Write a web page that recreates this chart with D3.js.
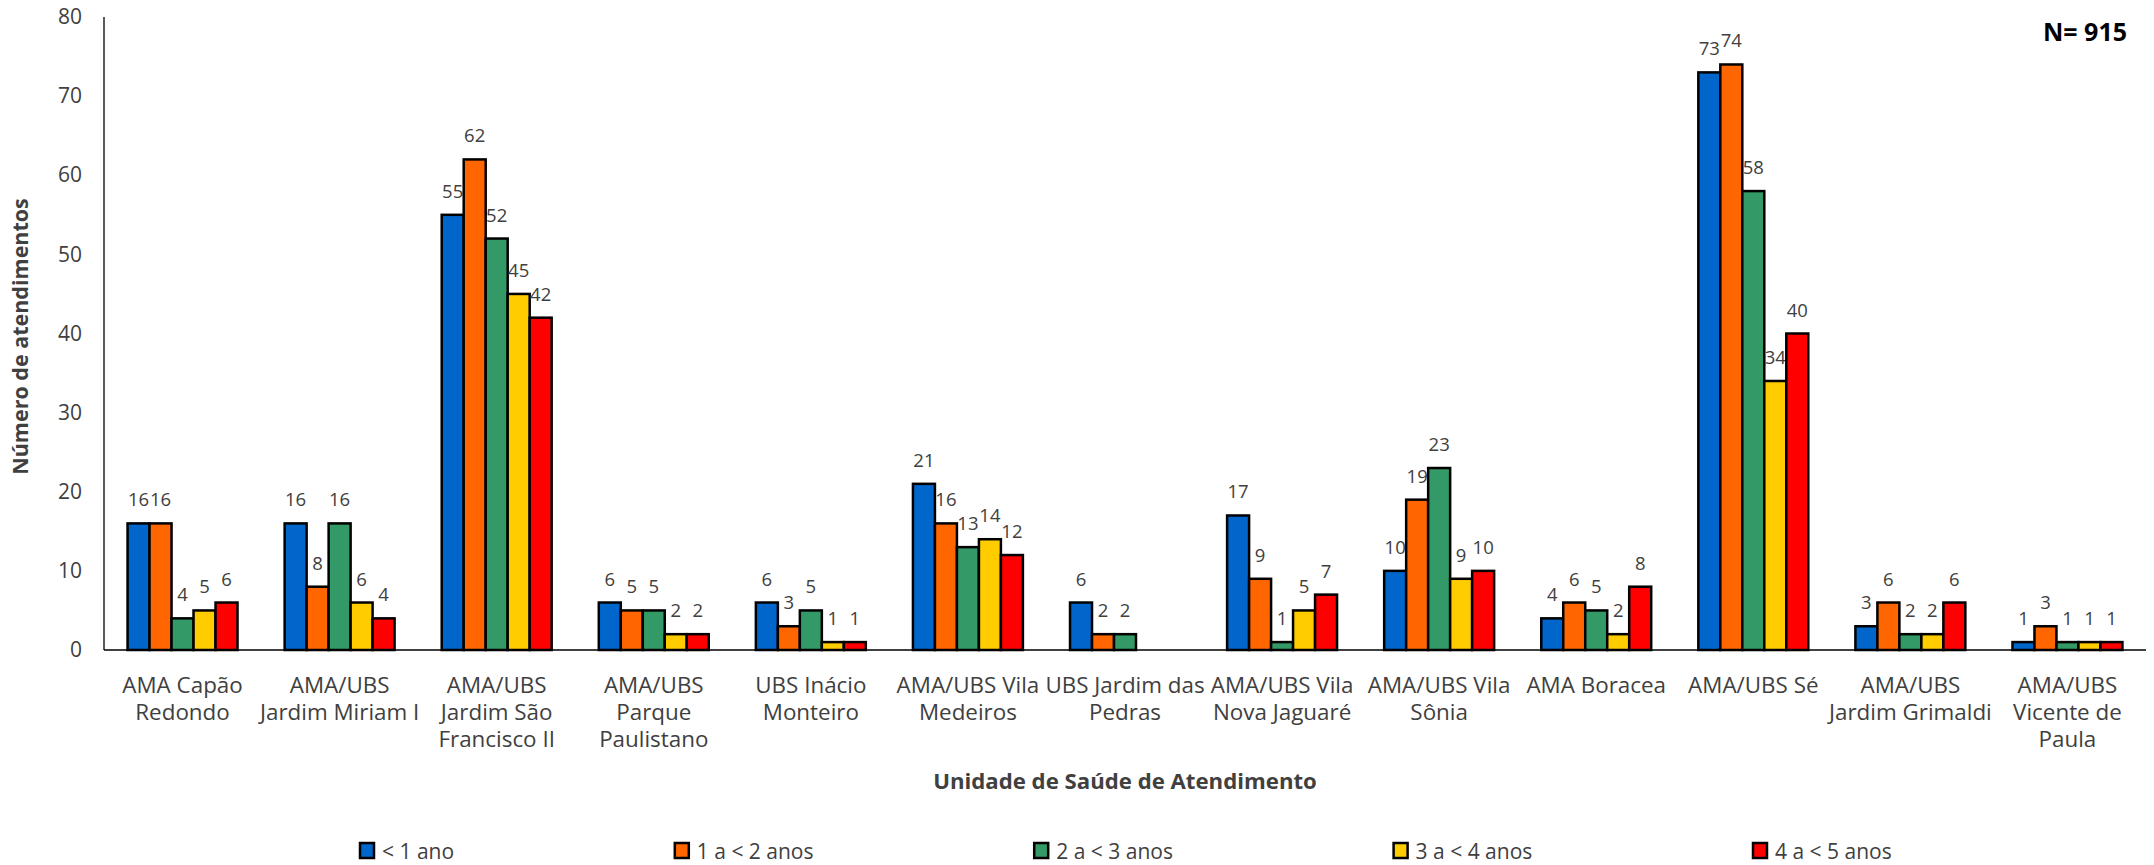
<!DOCTYPE html>
<html>
<head>
<meta charset="utf-8">
<script src="https://cdn.jsdelivr.net/npm/d3@7"></script>
<style>
  html, body { margin: 0; padding: 0; background: #fff; }
  svg { display: block; font-family: "Open Sans", sans-serif; }
</style>
</head>
<body>
<svg id="chart" width="2154" height="865"></svg>
<script>
// ---- data ----
const categories = [
  "AMA Capão Redondo", "AMA/UBS Jardim Miriam I", "AMA/UBS Jardim São Francisco II",
  "AMA/UBS Parque Paulistano", "UBS Inácio Monteiro", "AMA/UBS Vila Medeiros",
  "UBS Jardim das Pedras", "AMA/UBS Vila Nova Jaguaré", "AMA/UBS Vila Sônia",
  "AMA Boracea", "AMA/UBS Sé", "AMA/UBS Jardim Grimaldi", "AMA/UBS Vicente de Paula"
];
const categoryLines = [
  ["AMA Capão", "Redondo"], ["AMA/UBS", "Jardim Miriam I"], ["AMA/UBS", "Jardim São", "Francisco II"],
  ["AMA/UBS", "Parque", "Paulistano"], ["UBS Inácio", "Monteiro"], ["AMA/UBS Vila", "Medeiros"],
  ["UBS Jardim das", "Pedras"], ["AMA/UBS Vila", "Nova Jaguaré"], ["AMA/UBS Vila", "Sônia"],
  ["AMA Boracea"], ["AMA/UBS Sé"], ["AMA/UBS", "Jardim Grimaldi"], ["AMA/UBS", "Vicente de", "Paula"]
];
const seriesNames = ["< 1 ano", "1 a < 2 anos", "2 a < 3 anos", "3 a < 4 anos", "4 a < 5 anos"];
const seriesColors = ["#0066CC", "#FF6600", "#339966", "#FFCC00", "#FF0000"];
const lessThan1   = [16, 16, 55, 6, 6, 21, 6, 17, 10, 4, 73, 3, 1];
const from1to2    = [16,  8, 62, 5, 3, 16, 2,  9, 19, 6, 74, 6, 3];
const from2to3    = [ 4, 16, 52, 5, 5, 13, 2,  1, 23, 5, 58, 2, 1];
const from3to4    = [ 5,  6, 45, 2, 1, 14, 0,  5,  9, 2, 34, 2, 1];
const from4to5    = [ 6,  4, 42, 2, 1, 12, 0,  7, 10, 8, 40, 6, 1];
const seriesValues = [lessThan1, from1to2, from2to3, from3to4, from4to5];
const yTicks = [0, 10, 20, 30, 40, 50, 60, 70, 80];
const yTitle = "Número de atendimentos";
const xTitle = "Unidade de Saúde de Atendimento";
const nLabel = "N= 915";

// ---- layout ----
const svg = d3.select("#chart");
const mLeft = 104, mRight = 2146, mTop = 17, mBottom = 650;
const textColor = "#404040";

const x0 = d3.scaleBand().domain(categories).range([mLeft, mRight]).paddingInner(0.3).paddingOuter(0.15);
const x1 = d3.scaleBand().domain(seriesNames).range([0, x0.bandwidth()]);
const y = d3.scaleLinear().domain([0, 80]).range([mBottom, mTop]);

// y tick labels
const yAxis = d3.axisLeft(y).tickValues(yTicks).tickSize(0).tickPadding(22);
const gy = svg.append("g").attr("transform", `translate(${mLeft},0)`).call(yAxis);
gy.select(".domain").remove();
gy.selectAll("text").attr("font-size", 21).attr("fill", textColor).attr("font-family", "Open Sans");

// axis lines
svg.append("line").attr("x1", mLeft).attr("x2", mLeft).attr("y1", y(80)).attr("y2", y(0))
  .attr("stroke", "#000").attr("stroke-width", 1.3);

// bars
const groups = svg.append("g").selectAll("g").data(categories).join("g")
  .attr("transform", d => `translate(${x0(d)},0)`);

groups.each(function(cat, ci) {
  const g = d3.select(this);
  seriesNames.forEach((s, si) => {
    const v = seriesValues[si][ci];
    if (v <= 0) return;
    g.append("rect")
      .attr("x", x1(s)).attr("width", x1.bandwidth())
      .attr("y", y(v)).attr("height", y(0) - y(v))
      .attr("fill", seriesColors[si]).attr("stroke", "#000").attr("stroke-width", 2.5);
    g.append("text")
      .attr("x", x1(s) + x1.bandwidth() / 2).attr("y", y(v) - 17)
      .attr("text-anchor", "middle").attr("font-size", 18.5).attr("fill", textColor)
      .text(v);
  });
});

svg.append("line").attr("x1", mLeft).attr("x2", mRight).attr("y1", y(0)).attr("y2", y(0))
  .attr("stroke", "#000").attr("stroke-width", 1.3);

// category labels
const catG = svg.append("g");
categories.forEach((c, i) => {
  const t = catG.append("text").attr("text-anchor", "middle").attr("font-size", 22.4).attr("fill", textColor);
  categoryLines[i].forEach((ln, li) => {
    t.append("tspan").attr("x", x0(c) + x0.bandwidth() / 2).attr("y", 693 + li * 26.8).text(ln);
  });
});

// axis titles
svg.append("text").attr("x", (mLeft + mRight) / 2).attr("y", 789).attr("text-anchor", "middle")
  .attr("font-size", 22.2).attr("font-weight", "bold").attr("fill", textColor).text(xTitle);
svg.append("text").attr("transform", `translate(28,${(mTop + mBottom) / 2 + 3}) rotate(-90)`)
  .attr("text-anchor", "middle").attr("font-size", 21.5).attr("font-weight", "bold")
  .attr("fill", textColor).text(yTitle);

// N label
svg.append("text").attr("x", 2127).attr("y", 41).attr("text-anchor", "end")
  .attr("font-size", 25).attr("font-weight", "bold").attr("fill", "#000").text(nLabel);

// legend
const lg = svg.append("g");
const items = seriesNames.map((s, i) => {
  const g = lg.append("g");
  g.append("rect").attr("x", 0).attr("y", -8).attr("width", 14).attr("height", 15)
    .attr("fill", seriesColors[i]).attr("stroke", "#000").attr("stroke-width", 2.5);
  const t = g.append("text").attr("x", 22).attr("y", 7.5).attr("font-size", 21).attr("fill", textColor).text(s);
  return { g, w: 22 + t.node().getComputedTextLength() };
});
const legendStart = 360, legendLastStart = 1753;
const sumW = items.slice(0, 4).reduce((a, b) => a + b.w, 0);
const gap = (legendLastStart - legendStart - sumW) / 4;
let cx = legendStart;
items.forEach(it => { it.g.attr("transform", `translate(${cx},851)`); cx += it.w + gap; });
</script>
</body>
</html>
